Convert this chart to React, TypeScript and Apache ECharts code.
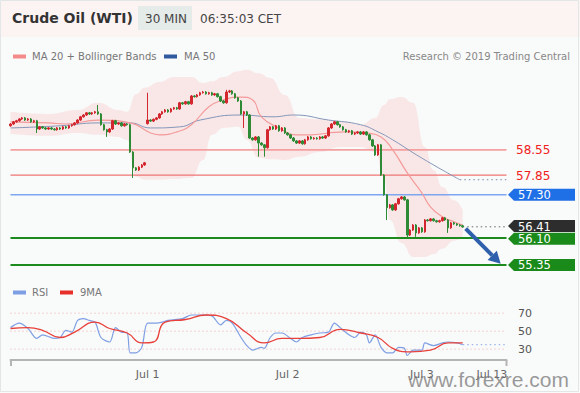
import React, { useEffect, useRef } from "react";
import * as echarts from "echarts";

// ---------- data ----------
const categoryCount = 171;
const xLabels: [number, string][] = [
  [47, "Jul 1"],
  [95, "Jul 2"],
  [141, "Jul 3"],
  [165, "Jul 13"],
];

const closes = [
  59.27, 59.33, 59.36, 59.41, 59.44, 59.38, 59.41, 59.33, 59.36, 59.13,
  59.19, 59.16, 59.13, 59.16, 59.13, 59.11, 59.16, 59.13, 59.19, 59.16,
  59.22, 59.25, 59.30, 59.38, 59.47, 59.52, 59.58, 59.55, 59.58, 59.61,
  59.55, 59.25, 59.11, 59.05, 59.13, 59.36, 59.27, 59.30, 59.22, 59.27,
  59.25, 58.49, 58.05, 57.99, 58.07, 58.13, 58.19, 59.38, 59.35, 59.40,
  59.44, 59.55, 59.61, 59.66, 59.61, 59.69, 59.72, 59.69, 59.86, 59.83,
  59.89, 59.83, 60.05, 60.03, 60.08, 60.14, 60.16, 60.11, 60.14, 60.08,
  60.11, 60.03, 59.91, 59.86, 60.16, 60.19, 60.11, 60.00, 59.91, 59.55,
  59.61, 59.52, 58.88, 58.83, 58.91, 58.74, 58.69, 58.61, 59.11, 59.19,
  59.13, 59.22, 59.08, 59.16, 59.02, 58.97, 58.88, 58.80, 58.74, 58.80,
  58.72, 58.83, 58.91, 58.86, 58.88, 58.86, 58.91, 58.88, 58.94, 59.16,
  59.27, 59.33, 59.25, 59.19, 59.11, 59.05, 59.08, 58.99, 59.02, 59.05,
  58.99, 59.05, 58.97, 58.83, 58.66, 58.41, 58.69, 57.85, 57.30, 56.94,
  57.02, 56.88, 57.05, 57.19, 57.24, 57.16, 56.18, 56.32, 56.46, 56.24,
  56.38, 56.27, 56.60, 56.58, 56.63, 56.58, 56.55, 56.58, 56.66, 56.60,
  56.38, 56.52, 56.49, 56.46, 56.44, 56.41,
];
const openOverrides: Record<number, number> = { 0: 59.22, 47: 59.28 };
const highOverrides: Record<number, number> = { 30: 59.8, 47: 60.14, 74: 60.22, 75: 60.22 };
const lowOverrides: Record<number, number> = {
  9: 59.02, 33: 58.91, 42: 57.77, 80: 59.16, 85: 58.36, 87: 58.36,
  129: 56.6, 136: 56.1, 139: 56.13, 150: 56.24,
};
const wick = 0.025;

const bandIdx = [0, 13, 23, 30, 37, 40, 43, 46, 51, 56, 62, 66, 69, 73, 78, 81, 85, 89, 94, 99, 106, 113, 120, 125, 128, 130, 134, 138, 142, 145, 148, 152, 155];
const bandUpper = [59.61, 59.55, 59.66, 59.86, 59.66, 59.61, 60.10, 60.28, 60.44, 60.58, 60.58, 60.41, 60.46, 60.58, 60.74, 60.78, 60.68, 60.55, 60.08, 59.44, 59.40, 59.36, 59.25, 59.44, 59.80, 59.96, 60.02, 59.86, 58.63, 57.99, 57.52, 57.15, 56.88];
const bandLower = [58.99, 58.94, 59.02, 58.97, 58.91, 58.83, 57.80, 57.72, 57.72, 57.74, 57.77, 58.27, 58.97, 59.16, 59.19, 58.83, 58.33, 58.29, 58.27, 58.36, 58.49, 58.63, 58.63, 58.49, 57.80, 56.60, 55.96, 55.57, 55.57, 55.65, 55.80, 56.02, 56.13];

const ma20: [number, number][] = [
  [0, 59.33], [13, 59.3], [19, 59.27], [30, 59.38], [41, 59.3], [48, 59.02], [51, 58.97],
  [57, 59.05], [62, 59.25], [68, 59.75], [73, 59.94], [79, 60.02], [83, 59.94], [86, 59.47],
  [92, 59.16], [98, 58.97], [103, 58.97], [109, 59.02], [115, 59.05], [122, 59.02], [127, 58.91],
  [131, 58.55], [136, 57.91], [141, 57.35], [144, 56.96], [148, 56.69], [152, 56.55], [155, 56.46],
];
const ma50: [number, number][] = [
  [0, 59.16], [17, 59.22], [30, 59.3], [41, 59.3], [48, 59.16], [58, 59.19], [65, 59.38],
  [79, 59.52], [90, 59.47], [97, 59.52], [109, 59.38], [120, 59.25], [126, 59.05], [131, 58.83],
  [138, 58.47], [145, 58.13], [154, 57.72],
];

const rsi: [number, number][] = [
  [0, 54], [3, 59], [6, 53], [9, 42], [11, 46], [15, 42], [17, 43], [19, 51], [21, 49], [23, 62],
  [25, 64], [27, 62], [29, 60], [31, 43], [34, 38], [36, 54], [38, 49], [40, 48], [41, 26], [43, 26],
  [45, 32], [47, 59], [50, 59], [52, 60], [54, 62], [59, 64], [62, 68], [66, 68], [69, 67], [72, 57],
  [74, 62], [76, 59], [79, 43], [81, 34], [83, 29], [86, 32], [87, 31], [89, 43], [91, 48], [93, 48],
  [96, 42], [98, 38], [100, 43], [103, 46], [106, 48], [109, 49], [111, 59], [113, 54], [116, 46],
  [118, 43], [120, 49], [122, 46], [123, 37], [125, 46], [127, 32], [129, 26], [131, 26], [133, 32],
  [135, 31], [136, 23], [138, 29], [141, 29], [142, 37], [145, 34], [148, 37], [150, 38], [153, 37], [155, 35],
];
const rsiMa: [number, number][] = [
  [0, 53], [6, 54], [11, 51], [17, 43], [22, 49], [29, 60], [34, 53], [40, 48], [45, 37], [49, 38],
  [53, 60], [60, 63], [67, 68], [74, 64], [81, 48], [87, 37], [93, 42], [99, 42], [106, 43], [113, 52],
  [120, 48], [126, 43], [131, 31], [137, 27], [144, 29], [150, 37], [155, 37],
];

const resistances = [58.55, 57.85];
const pivot = 57.3;
const supports = [56.1, 55.35];
const lastPrice = 56.41;
const rsiLevels = [70, 50, 30];

// ---------- styles ----------
const FONT = '"DejaVu Sans", Verdana, sans-serif';
const resistanceStyles = [
  { color: "#f5a0a0", width: 1.6 },
  { color: "#ef7575", width: 1.2 },
];
const UP = "#d3262e";
const DOWN = "#2f8a35";

export default function App() {
  const ref = useRef<HTMLDivElement>(null);

  useEffect(() => {
    document.body.style.margin = "0";
    if (!ref.current) return;
    const chart = echarts.init(ref.current, undefined, { renderer: "svg" });

    const cats = Array.from({ length: categoryCount }, (_, i) => {
      const f = xLabels.find((l) => l[0] === i);
      return f ? f[1] : "";
    });

    const candles = closes.map((c, i) => {
      const o = openOverrides[i] ?? (i === 0 ? c : closes[i - 1]);
      const hi = highOverrides[i] ?? Math.max(o, c) + wick;
      const lo = lowOverrides[i] ?? Math.min(o, c) - wick;
      return [o, c, lo, hi];
    });

    const lastIdx = closes.length - 1;
    const endIdx = categoryCount - 1;
    const ma50Last = ma50[ma50.length - 1];
    const rsiLast = rsi[rsi.length - 1];

    const seg = (
      x0: number,
      x1: number,
      v: number,
      color: string,
      width: number,
      type: any = "solid",
      grid = 0,
      z = 2
    ) => ({
      type: "line",
      xAxisIndex: grid,
      yAxisIndex: grid,
      data: [
        [x0, v],
        [x1, v],
      ],
      symbol: "none",
      silent: true,
      z,
      lineStyle: { color, width, type },
    });

    chart.setOption({
      animation: false,
      backgroundColor: "#f9fafa",
      grid: [
        { left: 10.5, top: 69, width: 496, height: 201.3 },
        { left: 10.5, top: 304.2, width: 496, height: 55.8 },
      ],
      xAxis: [
        { type: "category", gridIndex: 0, data: cats, show: false, boundaryGap: false },
        {
          type: "category",
          gridIndex: 1,
          data: cats,
          boundaryGap: false,
          axisLine: { show: true, lineStyle: { color: "#b4b4b4", width: 2 } },
          axisTick: { show: false },
          axisLabel: { interval: 0, color: "#666", fontSize: 11, fontFamily: FONT, margin: 9 },
          splitLine: { show: false },
        },
      ],
      yAxis: [
        { type: "value", gridIndex: 0, min: 55.2, max: 60.8, show: false, splitLine: { show: false } },
        { type: "value", gridIndex: 1, min: 18, max: 80, show: false, splitLine: { show: false } },
      ],
      series: [
        {
          type: "line",
          stack: "bb",
          data: bandIdx.map((x, k) => [x, bandLower[k]]),
          smooth: true,
          smoothMonotone: "x",
          symbol: "none",
          lineStyle: { opacity: 0 },
          silent: true,
          z: 1,
        },
        {
          type: "line",
          stack: "bb",
          data: bandIdx.map((x, k) => [x, +(bandUpper[k] - bandLower[k]).toFixed(3)]),
          smooth: true,
          smoothMonotone: "x",
          symbol: "none",
          lineStyle: { opacity: 0 },
          areaStyle: { color: "rgba(250,170,170,0.24)", opacity: 1 },
          silent: true,
          z: 1,
        },
        ...resistances.map((v, k) => seg(0, endIdx, v, resistanceStyles[k].color, resistanceStyles[k].width)),
        seg(0, endIdx, pivot, "#7ea6f0", 1.6),
        ...supports.map((v) => seg(0, endIdx, v, "#1c8a1c", 2)),
        seg(lastIdx, endIdx, lastPrice, "#666", 1, [1.5, 3]),
        seg(ma50Last[0], endIdx, ma50Last[1], "#7a8aa8", 1, [1.5, 3]),
        {
          type: "line",
          data: ma50,
          smooth: true,
          symbol: "none",
          lineStyle: { color: "#8496b8", width: 1 },
          silent: true,
          z: 2,
        },
        {
          type: "line",
          data: ma20,
          smooth: true,
          symbol: "none",
          lineStyle: { color: "#f49a9a", width: 1.2 },
          silent: true,
          z: 2,
        },
        {
          type: "candlestick",
          data: candles,
          barWidth: 2,
          z: 3,
          itemStyle: { color: UP, color0: DOWN, borderColor: UP, borderColor0: DOWN, borderWidth: 1 },
        },
        ...rsiLevels.map((v) => seg(0, endIdx, v, "#eeaaaa", 1, [1, 3], 1, 1)),
        seg(rsiLast[0], endIdx, rsiLast[1], "#8aa6e6", 1, [1.5, 3], 1, 1),
        {
          type: "line",
          xAxisIndex: 1,
          yAxisIndex: 1,
          data: rsi,
          smooth: 0.3,
          symbol: "none",
          lineStyle: { color: "#7f9fe4", width: 1.2 },
          silent: true,
          z: 2,
        },
        {
          type: "line",
          xAxisIndex: 1,
          yAxisIndex: 1,
          data: rsiMa,
          smooth: true,
          symbol: "none",
          lineStyle: { color: "#e8403a", width: 1.3 },
          silent: true,
          z: 3,
        },
      ],
    });

    const py = (v: number) => chart.convertToPixel({ yAxisIndex: 0 }, v) as number;
    const ry = (v: number) => chart.convertToPixel({ yAxisIndex: 1 }, v) as number;
    const pt = (i: number, v: number) => chart.convertToPixel({ gridIndex: 0 }, [i, v]) as number[];

    const txt = (x: number, y: number, text: string, fill: string, size: number, weight = "normal", extra: any = {}) => ({
      type: "text",
      x,
      y,
      z: 50,
      style: { text, fill, font: `${weight} ${size}px ${FONT}`, verticalAlign: "middle", align: "left", ...extra },
    });

    const tag = (v: number, color: string, label: string, dy = 0) => {
      const y = py(v) + dy;
      const h = 6;
      return [
        {
          type: "polygon",
          z: 40,
          shape: { points: [[508, y], [514, y - h], [575, y - h], [575, y + h], [514, y + h]] },
          style: { fill: color },
        },
        txt(518, y + 0.5, label, "#fff", 11.5),
      ];
    };

    const a0 = pt(lastIdx + 0.6, lastPrice - 0.05);
    const a1 = pt(168, supports[1] + 0.03);
    const dx = a1[0] - a0[0];
    const dy = a1[1] - a0[1];
    const len = Math.hypot(dx, dy);
    const ux = dx / len;
    const uy = dy / len;
    const headLen = 12;
    const headW = 6.5;
    const bx = a1[0] - ux * headLen;
    const by = a1[1] - uy * headLen;

    const fmt = (v: number) => v.toFixed(2);

    const graphic: any[] = [
      { type: "rect", z: -5, shape: { x: 0, y: 0, width: 580, height: 37 }, style: { fill: "#fcf3f3" } },
      {
        type: "rect",
        z: -4,
        shape: { x: 0.5, y: 0.5, width: 578, height: 391 },
        style: { fill: "none", stroke: "#e2e6e6", lineWidth: 1 },
      },
      txt(12, 18, "Crude Oil (WTI)", "#333", 14, "bold"),
      { type: "rect", z: 45, shape: { x: 138, y: 6, width: 54, height: 24 }, style: { fill: "#e5ebe9" } },
      txt(145, 18.5, "30 MIN", "#444", 12),
      txt(200, 18.5, "06:35:03 CET", "#444", 12),
      { type: "rect", z: 45, shape: { x: 13, y: 54.5, width: 13, height: 4 }, style: { fill: "#f58a8a" } },
      txt(32, 56.5, "MA 20 + Bollinger Bands", "#777", 10),
      { type: "rect", z: 45, shape: { x: 164, y: 54.5, width: 13, height: 4 }, style: { fill: "#2f5aa0" } },
      txt(184, 56.5, "MA 50", "#777", 10),
      txt(570, 56.5, "Research \u00a9 2019 Trading Central", "#888", 10, "normal", { align: "right" }),
      ...resistances.map((v) => txt(516, py(v) + 0.5, fmt(v), "#f02020", 12)),
      ...tag(pivot, "#1f6fe6", fmt(pivot)),
      ...tag(lastPrice, "#2d2d2d", fmt(lastPrice), -0.8),
      ...tag(supports[0], "#1a8a1a", fmt(supports[0]), 0.8),
      ...tag(supports[1], "#1a8a1a", fmt(supports[1])),
      {
        type: "line",
        z: 60,
        shape: { x1: a0[0], y1: a0[1], x2: bx, y2: by },
        style: { stroke: "#2e60ab", lineWidth: 4 },
      },
      {
        type: "polygon",
        z: 60,
        shape: {
          points: [
            [a1[0], a1[1]],
            [bx - uy * headW, by + ux * headW],
            [bx + uy * headW, by - ux * headW],
          ],
        },
        style: { fill: "#2e60ab" },
      },
      { type: "rect", z: 45, shape: { x: 13, y: 290.5, width: 13, height: 4 }, style: { fill: "#7f9fe4" } },
      txt(32, 292.5, "RSI", "#777", 10),
      { type: "rect", z: 45, shape: { x: 60, y: 290.5, width: 13, height: 4 }, style: { fill: "#e8302a" } },
      txt(80, 292.5, "9MA", "#777", 10),
      ...rsiLevels.map((v) => txt(518, ry(v) + 0.5, String(v), "#555", 11)),
      { type: "line", z: 45, shape: { x1: 11, y1: 360, x2: 11, y2: 366 }, style: { stroke: "#b4b4b4", lineWidth: 2 } },
      { type: "line", z: 45, shape: { x1: 506.5, y1: 360, x2: 506.5, y2: 366 }, style: { stroke: "#b4b4b4", lineWidth: 2 } },
      {
        type: "text",
        x: 408,
        y: 379,
        z: 70,
        style: {
          text: "www.forexre.com",
          fill: "rgba(120,120,120,0.75)",
          font: `normal 21px "Liberation Sans", Arial, sans-serif`,
          verticalAlign: "middle",
          align: "left",
        },
      },
    ];

    chart.setOption({ graphic });

    return () => chart.dispose();
  }, []);

  return <div ref={ref} style={{ width: 580, height: 393 }} />;
}
